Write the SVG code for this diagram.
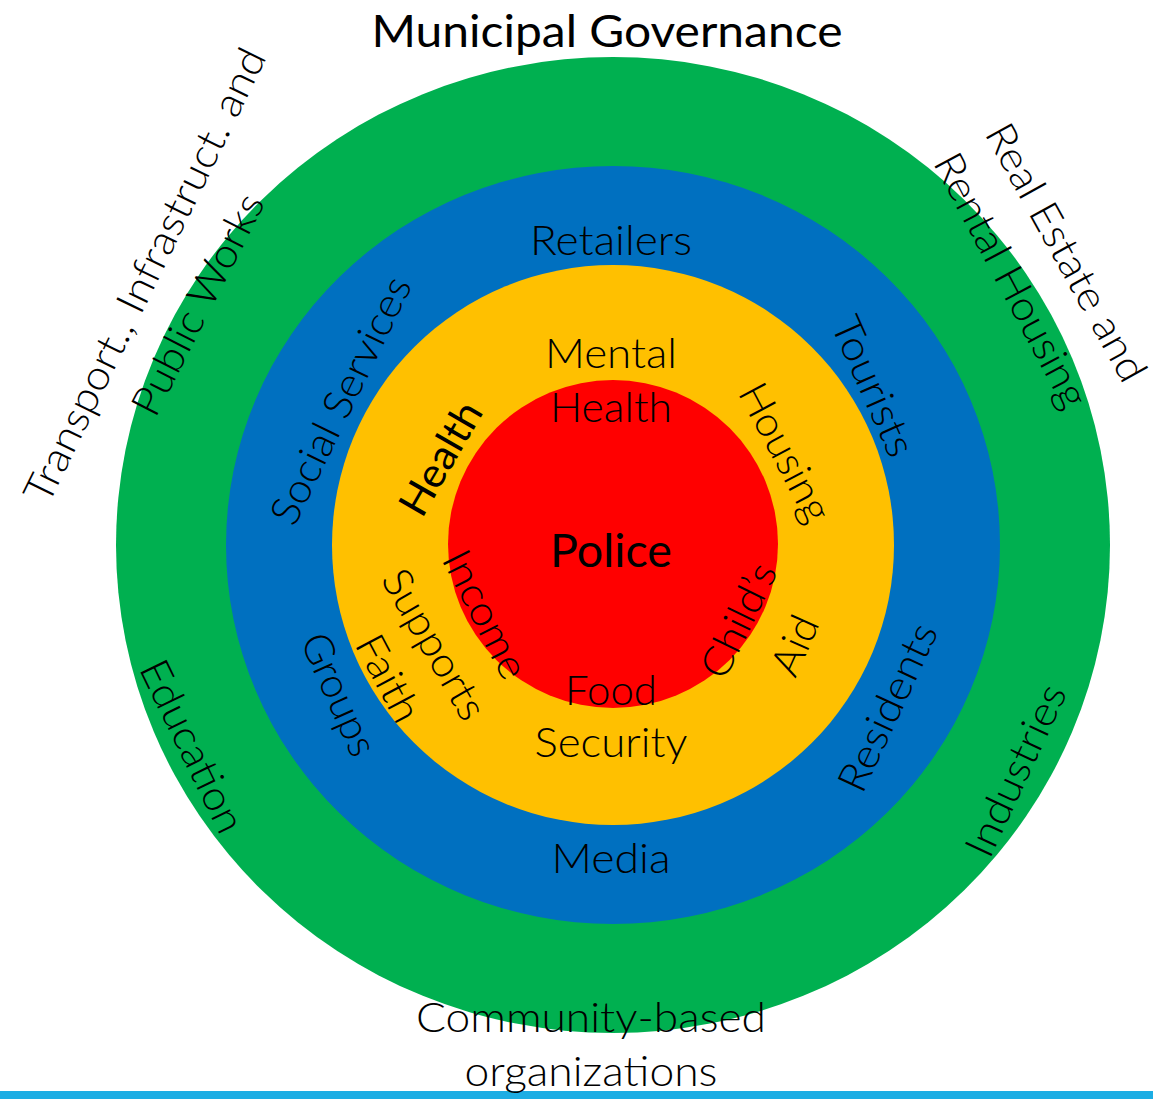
<svg xmlns="http://www.w3.org/2000/svg" width="1153" height="1099" viewBox="0 0 1153 1099">
<style>
text{font-family:Lato,"Open Sans","Liberation Sans",sans-serif;fill:#000;text-anchor:middle}
.l{font-size:41px;font-weight:300}
.r{font-weight:400}
</style>
<rect x="0" y="0" width="1153" height="1099" fill="#fff"/>
<g id="ring-green"><ellipse cx="613" cy="545" rx="497" ry="488" fill="#00B050"/></g>
<g id="ring-blue"><ellipse cx="613" cy="545" rx="387" ry="379" fill="#0070C0"/></g>
<g id="ring-yellow"><ellipse cx="613" cy="545" rx="281" ry="280" fill="#FFC000"/></g>
<g id="ring-red"><ellipse cx="613" cy="544" rx="165" ry="164" fill="#FF0000"/></g>
<rect x="0" y="1091" width="1153" height="8" fill="#1CADE4"/>
<g id="connectors"></g>
<g id="labels">
<g id="municipal"><text class="r" x="607" y="47" font-size="45" textLength="471" lengthAdjust="spacingAndGlyphs">Municipal Governance</text></g>
<g id="retailers"><text class="l" x="611" y="255" textLength="162" lengthAdjust="spacingAndGlyphs">Retailers</text></g>
<g id="mental-health"><text class="l" x="611" y="368" textLength="132" lengthAdjust="spacingAndGlyphs">Mental</text><text class="l" x="611" y="422" textLength="122" lengthAdjust="spacingAndGlyphs">Health</text></g>
<g id="police"><text class="r" x="611" y="567" font-size="46" textLength="122" lengthAdjust="spacingAndGlyphs">Police</text></g>
<g id="food-security"><text class="l" x="611" y="705" textLength="92" lengthAdjust="spacingAndGlyphs">Food</text><text class="l" x="611" y="757" textLength="153" lengthAdjust="spacingAndGlyphs">Security</text></g>
<g id="media"><text class="l" x="611" y="873" textLength="119" lengthAdjust="spacingAndGlyphs">Media</text></g>
<g id="cbo"><text class="l" x="591" y="1032" textLength="350" lengthAdjust="spacingAndGlyphs">Community-based</text><text class="l" x="591" y="1086" textLength="253" lengthAdjust="spacingAndGlyphs">organizations</text></g>
<g id="transport"><text class="l" transform="translate(144,275) rotate(-64)" y="15" textLength="500" lengthAdjust="spacingAndGlyphs">Transport., Infrastruct. and</text><text class="l" transform="translate(197,304) rotate(-63)" y="15" textLength="243" lengthAdjust="spacingAndGlyphs">Public Works</text></g>
<g id="real-estate"><text class="l" transform="translate(1067,252) rotate(61)" y="15" textLength="288" lengthAdjust="spacingAndGlyphs">Real Estate and</text><text class="l" transform="translate(1012,280) rotate(62)" y="15" textLength="282" lengthAdjust="spacingAndGlyphs">Rental Housing</text></g>
<g id="social-services"><text class="l" transform="translate(340,400) rotate(-64)" y="15" textLength="270" lengthAdjust="spacingAndGlyphs">Social Services</text></g>
<g id="tourists"><text class="l" transform="translate(874,386) rotate(66)" y="15" textLength="149" lengthAdjust="spacingAndGlyphs">Tourists</text></g>
<g id="health"><text class="r" font-size="41" transform="translate(440,458) rotate(-60)" y="15" textLength="124" lengthAdjust="spacingAndGlyphs">Health</text></g>
<g id="housing"><text class="l" transform="translate(786,452) rotate(62)" y="15" textLength="151" lengthAdjust="spacingAndGlyphs">Housing</text></g>
<g id="income"><text class="l" transform="translate(486,614) rotate(63)" y="15" textLength="139" lengthAdjust="spacingAndGlyphs">Income</text></g>
<g id="faith-supports"><text class="l" transform="translate(435,644) rotate(60)" y="15" textLength="167" lengthAdjust="spacingAndGlyphs">Supports</text><text class="l" transform="translate(389,678) rotate(62)" y="15" textLength="93" lengthAdjust="spacingAndGlyphs">Faith</text></g>
<g id="groups"><text class="l" transform="translate(340,694) rotate(66)" y="15" textLength="130" lengthAdjust="spacingAndGlyphs">Groups</text></g>
<g id="education"><text class="l" transform="translate(193,746) rotate(64)" y="15" textLength="187" lengthAdjust="spacingAndGlyphs">Education</text></g>
<g id="childs-aid"><text class="l" transform="translate(738,620) rotate(-64)" y="15" textLength="123" lengthAdjust="spacingAndGlyphs">Child’s</text><text class="l" transform="translate(794,645) rotate(-66)" y="15" textLength="61" lengthAdjust="spacingAndGlyphs">Aid</text></g>
<g id="residents"><text class="l" transform="translate(887,707) rotate(-65)" y="15" textLength="181" lengthAdjust="spacingAndGlyphs">Residents</text></g>
<g id="industries"><text class="l" transform="translate(1015,770) rotate(-65)" y="15" textLength="185" lengthAdjust="spacingAndGlyphs">Industries</text></g>
</g>
</svg>
